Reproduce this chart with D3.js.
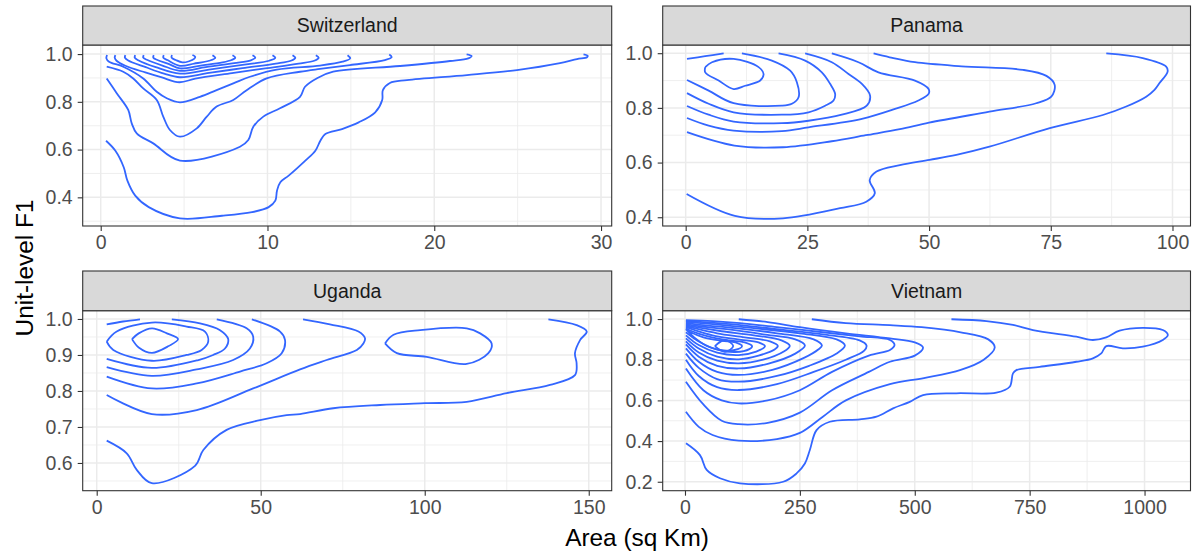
<!DOCTYPE html>
<html>
<head>
<meta charset="utf-8">
<script src="https://cdn.jsdelivr.net/npm/d3@7"></script>
<style>
  body { margin: 0; background: #fff; }
  svg { display: block; font-family: "Liberation Sans", Arial, sans-serif; }
</style>
</head>
<body>
<div id="chart"></div>
<script>
// ---- data ----
const countries = ['Switzerland', 'Panama', 'Uganda', 'Vietnam'];

const swissDomainX = [-1.08, 30.64];
const swissDomainY = [0.28, 1.038];
const swissTicksX = [0, 10, 20, 30];
const swissTicksY = [0.4, 0.6, 0.8, 1.0];

const panamaDomainX = [-4.72, 103.7];
const panamaDomainY = [0.368, 1.030];
const panamaTicksX = [0, 25, 50, 75, 100];
const panamaTicksY = [0.4, 0.6, 0.8, 1.0];

const ugandaDomainX = [-4.27, 157.0];
const ugandaDomainY = [0.523, 1.023];
const ugandaTicksX = [0, 50, 100, 150];
const ugandaTicksY = [0.6, 0.7, 0.8, 0.9, 1.0];

const vietnamDomainX = [-48.5, 1100];
const vietnamDomainY = [0.156, 1.041];
const vietnamTicksX = [0, 250, 500, 750, 1000];
const vietnamTicksY = [0.2, 0.4, 0.6, 0.8, 1.0];

// density contour paths, [area, F1]
const swissContours = [
  [[0.32,0.637],[0.88,0.595],[1.38,0.526],[1.6,0.47],[2.07,0.407],[2.88,0.359],[4.75,0.312],[7.27,0.323],[9.07,0.338],[10.07,0.359],[10.47,0.386],[10.57,0.428],[10.77,0.463],[11.27,0.491],[12.27,0.554],[12.87,0.595],[13.17,0.637],[13.47,0.665],[14.47,0.686],[15.47,0.714],[16.46,0.756],[16.88,0.808],[16.92,0.849],[17.34,0.879],[18.36,0.891],[21.96,0.912],[24.96,0.933],[27.54,0.962],[28.56,0.979],[29.16,0.987],[29.2,0.993],[28.95,0.999]],
  [[0.36,0.898],[0.96,0.836],[1.65,0.766],[1.86,0.71],[2.16,0.668],[3.15,0.626],[4.75,0.554],[8.35,0.612],[8.85,0.64],[9.15,0.696],[9.75,0.738],[10.75,0.773],[11.95,0.821],[12.25,0.863],[13.0,0.9],[13.94,0.926],[17.94,0.95],[20.94,0.971],[22.04,0.982],[22.24,0.992],[21.94,0.999]],
  [[0.36,0.947],[1.35,0.926],[1.95,0.898],[2.55,0.856],[3.36,0.808],[3.75,0.738],[4.15,0.682],[4.75,0.654],[5.76,0.689],[6.36,0.738],[6.95,0.78],[7.95,0.808],[8.75,0.849],[9.95,0.898],[11.95,0.926],[13.15,0.938],[14.95,0.954],[17.04,0.975],[17.45,0.987],[17.3,0.998]],
  [[0.38,0.996],[0.34,0.982],[0.5,0.968],[1.35,0.947],[2.55,0.898],[3.36,0.842],[3.96,0.815],[4.75,0.798],[5.95,0.821],[6.95,0.849],[7.95,0.877],[8.95,0.905],[10.55,0.935],[13.15,0.952],[14.5,0.968],[14.96,0.982],[14.8,0.995]],
  [[0.88,0.996],[0.84,0.985],[0.95,0.972],[1.48,0.951],[2.67,0.923],[3.67,0.902],[4.72,0.882],[5.67,0.897],[7.87,0.92],[9.87,0.94],[11.87,0.96],[12.8,0.972],[13.07,0.984],[12.9,0.995]],
  [[1.48,0.996],[1.45,0.985],[1.65,0.973],[2.7,0.945],[3.8,0.918],[4.75,0.903],[6.5,0.921],[8.5,0.941],[10.5,0.96],[11.4,0.972],[11.67,0.984],[11.5,0.995]],
  [[2.07,0.996],[2.04,0.985],[2.25,0.974],[3.3,0.945],[4.75,0.918],[6.5,0.935],[8.5,0.955],[10.1,0.972],[10.47,0.984],[10.3,0.995]],
  [[2.58,0.996],[2.55,0.985],[2.8,0.975],[3.7,0.952],[4.75,0.93],[6.3,0.945],[8.0,0.962],[9.0,0.974],[9.27,0.985],[9.1,0.995]],
  [[3.18,0.996],[3.15,0.985],[3.4,0.975],[4.1,0.958],[4.75,0.94],[6.0,0.952],[7.3,0.965],[7.85,0.975],[8.07,0.985],[7.9,0.995]],
  [[3.78,0.996],[3.75,0.985],[4.0,0.975],[4.75,0.951],[5.6,0.96],[6.5,0.972],[6.87,0.984],[6.7,0.995]],
  [[4.27,0.996],[4.25,0.985],[4.5,0.975],[4.9,0.965],[5.3,0.97],[5.6,0.98],[5.67,0.988],[5.5,0.996]]
];

const panamaContours = [
  [[4.02,0.949],[5.4,0.967],[9.85,0.979],[14.98,0.949],[16.0,0.924],[15.31,0.9],[12.23,0.881],[9.85,0.869],[6.77,0.9],[4.02,0.93],[4.02,0.949]],
  [[0.27,0.979],[4.0,0.989],[7.8,0.999]],
  [[0.27,0.902],[4.72,0.863],[9.85,0.817],[19.76,0.808],[21.81,0.815],[23.19,0.839],[22.84,0.894],[21.47,0.936],[17.71,0.973],[11.55,0.999]],
  [[0.27,0.854],[4.72,0.815],[9.85,0.784],[19.76,0.775],[25.24,0.784],[28.65,0.808],[30.37,0.827],[30.7,0.851],[29.67,0.888],[27.97,0.93],[24.54,0.973],[19.08,0.999]],
  [[0.27,0.807],[4.72,0.775],[9.85,0.75],[19.76,0.744],[25.24,0.753],[32.07,0.775],[37.2,0.808],[37.88,0.845],[36.18,0.888],[33.45,0.924],[30.02,0.967],[24.54,0.999]],
  [[0.27,0.763],[4.72,0.735],[9.85,0.717],[19.76,0.715],[25.24,0.729],[36.2,0.76],[43.0,0.796],[47.8,0.827],[49.9,0.851],[49.9,0.869],[47.1,0.9],[39.6,0.93],[35.5,0.967],[30.02,0.999]],
  [[0.27,0.711],[10.0,0.662],[20.0,0.656],[30.0,0.678],[37.0,0.7],[44.0,0.722],[50.0,0.746],[62.4,0.786],[72.0,0.817],[75.1,0.841],[75.8,0.884],[74.1,0.917],[69.3,0.939],[56.7,0.952],[47.1,0.967],[41.9,0.985],[38.6,0.999]],
  [[0.2,0.485],[10.1,0.405],[20.0,0.396],[31.7,0.433],[37.1,0.457],[38.85,0.488],[37.8,0.536],[39.2,0.567],[44.0,0.591],[50.1,0.61],[55.6,0.628],[62.4,0.658],[74.8,0.726],[85.7,0.774],[90.5,0.805],[94.6,0.841],[96.3,0.866],[97.3,0.89],[99.0,0.933],[98.7,0.951],[93.9,0.982],[86.4,0.999]]
];

const ugandaContours = [
  [[10.76,0.944],[12.8,0.96],[16.86,0.974],[21.4,0.96],[24.8,0.944],[21.95,0.925],[16.86,0.906],[12.8,0.921],[10.76,0.944]],
  [[3.05,0.937],[6.1,0.965],[16.8,0.99],[27.4,0.979],[33.0,0.965],[34.0,0.937],[32.0,0.914],[27.4,0.9],[16.8,0.884],[5.06,0.914],[3.05,0.937]],
  [[3.05,0.985],[8.0,0.993],[13.2,0.999]],
  [[3.05,0.889],[16.8,0.864],[31.0,0.886],[35.5,0.9],[39.1,0.918],[40.1,0.944],[37.6,0.969],[31.5,0.988],[22.9,0.999]],
  [[3.05,0.866],[16.8,0.842],[30.5,0.86],[41.6,0.886],[46.7,0.918],[47.7,0.951],[45.7,0.974],[36.6,0.999]],
  [[3.05,0.84],[16.8,0.807],[30.5,0.821],[43.7,0.854],[51.8,0.877],[56.4,0.905],[57.4,0.942],[55.9,0.965],[47.3,0.999]],
  [[3.05,0.789],[16.8,0.736],[30.5,0.747],[47.7,0.807],[62.0,0.86],[70.1,0.886],[79.3,0.914],[81.3,0.932],[81.8,0.946],[79.8,0.965],[71.1,0.985],[62.9,0.999]],
  [[87.9,0.932],[90.5,0.956],[98.6,0.969],[112.8,0.974],[116.9,0.96],[120.4,0.932],[119.4,0.905],[112.8,0.875],[100.6,0.895],[91.5,0.905],[87.9,0.932]],
  [[3.05,0.662],[9.15,0.627],[12.2,0.581],[16.8,0.544],[29.97,0.592],[32.5,0.636],[39.6,0.692],[49.8,0.719],[57.9,0.733],[62.0,0.736],[72.1,0.752],[86.4,0.761],[100.1,0.766],[112.8,0.77],[125.0,0.794],[138.2,0.817],[145.8,0.844],[146.3,0.877],[145.8,0.905],[147.4,0.942],[149.4,0.965],[146.3,0.983],[137.7,0.999]]
];

const vietnamContours = [
  [[2.2,0.389],[32.6,0.331],[47.2,0.258],[76.1,0.217],[119.6,0.192],[213.7,0.2],[242.8,0.241],[260.9,0.29],[271.7,0.356],[286.3,0.454],[315.2,0.495],[380.4,0.507],[416.7,0.52],[452.8,0.561],[489.1,0.593],[518.0,0.626],[590.7,0.635],[677.6,0.638],[706.5,0.667],[713.7,0.733],[721.1,0.749],[771.7,0.765],[851.5,0.79],[887.6,0.807],[905.8,0.831],[916.7,0.867],[952.8,0.856],[996.3,0.864],[1039.8,0.897],[1050.7,0.921],[1039.8,0.946],[996.3,0.957],[945.7,0.943],[916.7,0.91],[887.6,0.897],[851.5,0.913],[757.2,0.946],[713.7,0.971],[655.9,0.99],[579.8,0.999]],
  [[2,0.544],[30,0.47],[60,0.43],[117,0.402],[200,0.41],[250,0.44],[300,0.52],[350,0.6],[446,0.68],[520,0.71],[600,0.75],[650,0.8],[674,0.86],[660,0.9],[600,0.935],[515,0.96],[446,0.97],[350,0.98],[276,0.999]],
  [[2,0.692],[40,0.58],[80,0.5],[117,0.483],[180,0.49],[250,0.54],[320,0.65],[400,0.74],[446,0.79],[500,0.82],[518,0.86],[500,0.885],[446,0.905],[350,0.93],[250,0.96],[180,0.985],[117,0.999]],
  [[2,0.757],[40,0.65],[80,0.6],[117,0.585],[180,0.6],[250,0.65],[320,0.74],[400,0.82],[446,0.848],[456,0.872],[446,0.897],[380,0.915],[300,0.935],[200,0.96],[120,0.98],[60,0.99],[2,0.995]],
  [[2,0.80],[30,0.72],[70,0.665],[117,0.651],[200,0.68],[280,0.74],[350,0.8],[390,0.845],[395,0.87],[380,0.895],[300,0.925],[200,0.95],[100,0.975],[40,0.985],[2,0.99]],
  [[2,0.83],[30,0.76],[70,0.705],[117,0.692],[200,0.72],[270,0.77],[330,0.83],[348,0.87],[330,0.9],[250,0.93],[150,0.955],[60,0.975],[2,0.985]],
  [[2,0.856],[30,0.79],[70,0.74],[117,0.725],[190,0.75],[260,0.81],[290,0.85],[298,0.87],[280,0.9],[200,0.93],[110,0.955],[40,0.97],[2,0.98]],
  [[2,0.875],[30,0.815],[70,0.77],[117,0.757],[180,0.78],[240,0.83],[261,0.87],[240,0.9],[170,0.925],[90,0.95],[30,0.965],[2,0.975]],
  [[2,0.89],[30,0.835],[70,0.795],[117,0.782],[170,0.8],[215,0.84],[228,0.868],[210,0.895],[150,0.92],[80,0.94],[25,0.96],[2,0.97]],
  [[2,0.905],[30,0.855],[70,0.815],[117,0.802],[160,0.82],[195,0.85],[202,0.868],[185,0.89],[130,0.91],[70,0.93],[20,0.955],[2,0.965]],
  [[2,0.92],[30,0.872],[70,0.835],[117,0.823],[155,0.84],[174,0.866],[160,0.885],[115,0.9],[60,0.92],[15,0.95],[2,0.96]],
  [[2,0.935],[30,0.89],[70,0.85],[110,0.838],[140,0.852],[146,0.867],[130,0.885],[95,0.895],[50,0.915],[10,0.945],[2,0.955]],
  [[2,0.95],[20,0.91],[50,0.865],[90,0.845],[115,0.852],[124,0.867],[110,0.885],[80,0.893],[40,0.91],[8,0.94],[2,0.948]],
  [[65,0.867],[87,0.897],[105,0.867],[87,0.839],[65,0.867]]
];

// ---- layout ----
const W = 1192, H = 553;
const colX = [[82.7, 611.7], [662.7, 1190.5]];
const rows = [{ strip: [6, 45], panel: [45, 226] }, { strip: [271, 310.7], panel: [310.7, 490.7] }];
const lineColor = '#3366FF';

const panels = [
  { name: countries[0], col: 0, row: 0, dx: swissDomainX, dy: swissDomainY, tx: swissTicksX, ty: swissTicksY, fy: '.1f', data: swissContours },
  { name: countries[1], col: 1, row: 0, dx: panamaDomainX, dy: panamaDomainY, tx: panamaTicksX, ty: panamaTicksY, fy: '.1f', data: panamaContours },
  { name: countries[2], col: 0, row: 1, dx: ugandaDomainX, dy: ugandaDomainY, tx: ugandaTicksX, ty: ugandaTicksY, fy: '.1f', data: ugandaContours },
  { name: countries[3], col: 1, row: 1, dx: vietnamDomainX, dy: vietnamDomainY, tx: vietnamTicksX, ty: vietnamTicksY, fy: '.1f', data: vietnamContours }
];

const svg = d3.select('#chart').append('svg')
  .attr('width', W).attr('height', H);

function minorTicks(major, domain) {
  const step = major[1] - major[0];
  const out = [];
  for (let i = -1; i < major.length; i++) {
    const v = major[0] + step * (i + 0.5);
    if (v > domain[0] && v < domain[1]) out.push(v);
  }
  return out;
}

panels.forEach(p => {
  const [x0, x1] = colX[p.col];
  const r = rows[p.row];
  const [y0, y1] = r.panel;
  const x = d3.scaleLinear().domain(p.dx).range([x0, x1]);
  const y = d3.scaleLinear().domain(p.dy).range([y1, y0]);

  const g = svg.append('g');

  // grid
  const grid = g.append('g');
  grid.selectAll('.vminor').data(minorTicks(p.tx, p.dx)).join('line')
    .attr('x1', d => x(d)).attr('x2', d => x(d)).attr('y1', y0).attr('y2', y1)
    .attr('stroke', '#EBEBEB').attr('stroke-width', 0.8);
  grid.selectAll('.hminor').data(minorTicks(p.ty, p.dy)).join('line')
    .attr('y1', d => y(d)).attr('y2', d => y(d)).attr('x1', x0).attr('x2', x1)
    .attr('stroke', '#EBEBEB').attr('stroke-width', 0.8);
  grid.selectAll('.vmajor').data(p.tx).join('line')
    .attr('x1', d => x(d)).attr('x2', d => x(d)).attr('y1', y0).attr('y2', y1)
    .attr('stroke', '#EBEBEB').attr('stroke-width', 1.5);
  grid.selectAll('.hmajor').data(p.ty).join('line')
    .attr('y1', d => y(d)).attr('y2', d => y(d)).attr('x1', x0).attr('x2', x1)
    .attr('stroke', '#EBEBEB').attr('stroke-width', 1.5);

  // contours
  const line = d3.line()
    .x(d => x(d[0])).y(d => y(d[1]))
    .curve(d3.curveCatmullRom.alpha(0.5));
  g.append('g').selectAll('path').data(p.data).join('path')
    .attr('d', line)
    .attr('fill', 'none')
    .attr('stroke', lineColor)
    .attr('stroke-width', 1.8)
    .attr('stroke-linejoin', 'round');

  // panel border
  g.append('rect')
    .attr('x', x0).attr('y', y0).attr('width', x1 - x0).attr('height', y1 - y0)
    .attr('fill', 'none').attr('stroke', '#333333').attr('stroke-width', 1.1);

  // strip
  const [s0, s1] = r.strip;
  g.append('rect')
    .attr('x', x0).attr('y', s0).attr('width', x1 - x0).attr('height', s1 - s0)
    .attr('fill', '#D9D9D9').attr('stroke', '#333333').attr('stroke-width', 1.1);
  g.append('text')
    .attr('x', (x0 + x1) / 2).attr('y', (s0 + s1) / 2)
    .attr('dy', '0.35em')
    .attr('text-anchor', 'middle')
    .attr('fill', '#1A1A1A')
    .style('font-size', '19.5px')
    .text(p.name);

  // axes
  const xAxis = d3.axisBottom(x).tickValues(p.tx).tickSize(5).tickPadding(4).tickFormat(d3.format('d'));
  const yAxis = d3.axisLeft(y).tickValues(p.ty).tickSize(5).tickPadding(5).tickFormat(d3.format(p.fy));
  const ax = g.append('g').attr('transform', `translate(0,${y1})`).call(xAxis);
  const ay = g.append('g').attr('transform', `translate(${x0},0)`).call(yAxis);
  [ax, ay].forEach(a => {
    a.select('.domain').remove();
    a.selectAll('.tick line').attr('stroke', '#333333').attr('stroke-width', 1.1);
    a.selectAll('.tick text')
      .attr('fill', '#4D4D4D')
      .style('font-size', '19.5px')
      .style('font-family', '"Liberation Sans", Arial, sans-serif');
  });
});

// axis titles
svg.append('text')
  .attr('x', 637).attr('y', 546)
  .attr('text-anchor', 'middle')
  .style('font-size', '24.4px')
  .attr('fill', '#000')
  .text('Area (sq Km)');

svg.append('text')
  .attr('transform', 'translate(33,268) rotate(-90)')
  .attr('text-anchor', 'middle')
  .style('font-size', '24.4px')
  .attr('fill', '#000')
  .text('Unit-level F1');
</script>
</body>
</html>
